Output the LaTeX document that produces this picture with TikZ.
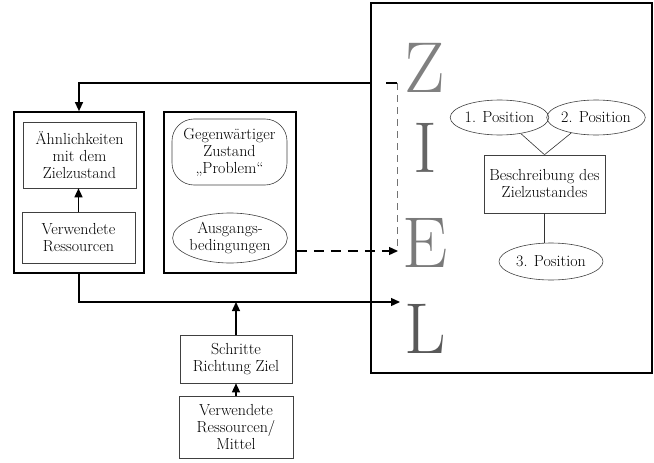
\documentclass[tikz,border=0pt]{standalone}
\usepackage{fontspec}
\usetikzlibrary{arrows.meta,shapes.geometric,calc}
\begin{document}
\begin{tikzpicture}[x=1pt,y=-1pt,
  txt/.style={font=\fontsize{16}{17}\selectfont, align=center, inner sep=0pt},
  outerbox/.style={draw, line width=1.7pt, rectangle, inner sep=0pt},
  innerbox/.style={txt, draw=black!75, line width=0.6pt, rectangle},
  ovalbox/.style={txt, draw=black!75, line width=0.6pt, ellipse, inner sep=0pt},
  bigletter/.style={font=\fontsize{72}{72}\selectfont, inner sep=0pt, anchor=base},
  arr/.style={line width=1.3pt, -{Triangle[length=9pt,width=8pt]}},
  dashline/.style={line width=1.1pt, dash pattern=on 10pt off 7pt},
  faintdash/.style={line width=0.6pt, draw=black!55, dash pattern=on 7pt off 5pt},
  thinline/.style={line width=0.6pt, draw=black!80}
]
\useasboundingbox (0,0) rectangle (654,463);
% left group
\node[outerbox, minimum width=130pt, minimum height=161pt] (leftouter) at (79,192.5) {};
\node[innerbox, minimum width=113pt, minimum height=66pt] (ahn) at (79.5,155) {Ähnlichkeiten\\mit dem\\Zielzustand};
\node[innerbox, minimum width=113pt, minimum height=51pt] (vres) at (78.5,237.5) {Verwendete\\Ressourcen};
% middle group
\node[outerbox, minimum width=132pt, minimum height=161pt] (mid) at (230,192.5) {};
\node[innerbox, rounded corners=22pt, minimum width=115pt, minimum height=66pt] (gegen) at (229.5,152) {Gegenwärtiger\\Zustand\\„Problem“};
\node[ovalbox, minimum width=106pt, minimum height=50pt] (ausg) at (230,238) {Ausgangs-\\bedingungen};
% big right box
\node[draw, line width=1.2pt, rectangle, minimum width=281pt, minimum height=370pt, inner sep=0pt] (big) at (511.5,188) {};
\node[bigletter, text=black!50] (Z) at (425,92) {Z};
\node[bigletter, text=black!60] (I) at (425,172) {I};
\node[bigletter, text=black!52] (E) at (425,267) {E};
\node[bigletter, text=black!65] (L) at (425,353) {L};
\node[ovalbox, minimum width=97pt, minimum height=35pt] (pos1) at (499.5,117.5) {1. Position};
\node[ovalbox, minimum width=96pt, minimum height=35pt] (pos2) at (596,117.5) {2. Position};
\node[innerbox, minimum width=121pt, minimum height=58pt] (besch) at (544.5,184) {Beschreibung des\\Zielzustandes};
\node[ovalbox, minimum width=104pt, minimum height=37pt] (pos3) at (551,261.5) {3. Position};
% bottom group
\node[innerbox, minimum width=112pt, minimum height=48pt] (schritte) at (236,359) {Schritte\\Richtung Ziel};
\node[innerbox, minimum width=114pt, minimum height=62pt] (vres2) at (236,427) {Verwendete\\Ressourcen/\\Mittel};
% coordinates
\coordinate (Ltip) at (400,302);
\coordinate (Etip) at (398,251);
\coordinate (topjoin) at (371,83);
\coordinate (dstart) at (386,83);
\coordinate (dcorner) at (397,83);
\coordinate (dend) at (397,247);
% connectors
\draw[arr] (leftouter.south) |- (Ltip);
\draw[arr] (schritte.north) -- (schritte.north |- Ltip);
\draw[arr] (vres2.north) -- (schritte.south);
\draw[arr] (vres.north) -- (vres.north |- ahn.south);
\draw[arr] (topjoin) -| (leftouter.north);
\draw[line width=1.3pt] (dstart) -- (dcorner);
\draw[faintdash] (dcorner) -- (dend);
\draw[dashline] (mid.east |- Etip) -- ($(Etip)+(-9,0)$);
\draw[arr] ($(Etip)+(-9,0)$) -- (Etip);
\draw[thinline] (pos1.-37) -- (besch.north);
\draw[thinline] (pos2.-148) -- (besch.north);
\draw[thinline] (besch.south) -- (besch.south |- pos3.north);
\end{tikzpicture}
\end{document}
